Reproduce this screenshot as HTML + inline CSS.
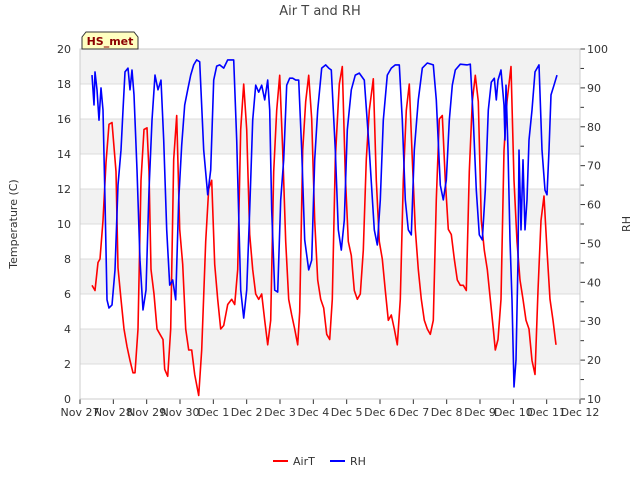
<!DOCTYPE html>
<html><head><meta charset="utf-8"><style>
body{margin:0;background:#fff;font-family:"Liberation Sans","DejaVu Sans",sans-serif}
svg text{font-family:"DejaVu Sans","Liberation Sans",sans-serif}
</style></head><body>
<svg id="c" width="640" height="480" xmlns="http://www.w3.org/2000/svg"></svg>
<script>
const xTickLabels=["Nov 27","Nov 28","Nov 29","Nov 30","Dec 1","Dec 2","Dec 3","Dec 4","Dec 5","Dec 6","Dec 7","Dec 8","Dec 9","Dec 10","Dec 11","Dec 12"];
const leftTicks=[0,2,4,6,8,10,12,14,16,18,20];
const rightTicks=[10,20,30,40,50,60,70,80,90,100];
const airTDays=[.36,.45,.54,.60,.69,.78,.87,.96,1.08,1.14,1.23,1.32,1.41,1.50,1.59,1.65,1.74,1.83,1.92,2.01,2.07,2.13,2.22,2.31,2.40,2.49,2.54,2.63,2.72,2.81,2.90,2.99,3.08,3.17,3.26,3.35,3.44,3.56,3.65,3.77,3.86,3.95,4.04,4.13,4.22,4.31,4.43,4.55,4.64,4.73,4.82,4.91,5.00,5.09,5.18,5.27,5.36,5.45,5.54,5.63,5.72,5.81,5.90,5.99,6.08,6.17,6.26,6.35,6.44,6.53,6.59,6.68,6.77,6.86,6.95,7.04,7.13,7.22,7.31,7.40,7.49,7.57,7.66,7.78,7.87,7.96,8.05,8.14,8.23,8.32,8.41,8.50,8.59,8.68,8.80,8.89,8.98,9.07,9.16,9.25,9.34,9.43,9.52,9.61,9.70,9.79,9.88,9.97,10.06,10.15,10.24,10.33,10.42,10.51,10.60,10.69,10.78,10.87,10.96,11.05,11.14,11.23,11.32,11.41,11.50,11.59,11.68,11.77,11.86,11.95,12.04,12.13,12.22,12.31,12.40,12.46,12.54,12.63,12.72,12.81,12.93,13.02,13.11,13.20,13.29,13.38,13.47,13.56,13.65,13.74,13.83,13.92,14.01,14.10,14.19,14.28];
const airTValues=[6.5,6.2,7.8,8.0,10.2,13.5,15.7,15.8,13.0,7.5,5.7,4.0,3.0,2.2,1.5,1.5,4.0,12.5,15.4,15.5,13.0,7.4,6.0,4.0,3.7,3.4,1.7,1.3,4.0,13.7,16.2,9.7,7.7,4.0,2.8,2.8,1.4,0.2,2.8,9.0,12.0,12.5,7.7,5.7,4.0,4.2,5.4,5.7,5.4,7.4,15.4,18.0,15.4,9.4,7.4,6.0,5.7,6.0,4.5,3.1,4.5,13.0,16.5,18.5,14.2,9.0,5.7,4.8,4.0,3.1,5.0,14.2,17.0,18.5,16.0,10.2,6.8,5.7,5.2,3.7,3.4,5.7,13.7,18.0,19.0,12.8,9.0,8.2,6.2,5.7,6.0,8.5,13.7,16.5,18.3,12.5,9.0,8.0,6.2,4.5,4.8,4.0,3.1,5.7,12.5,16.5,18.0,13.7,9.7,7.4,5.7,4.5,4.0,3.7,4.5,11.4,16.0,16.2,12.5,9.7,9.4,8.0,6.8,6.5,6.5,6.2,13.0,17.0,18.5,17.0,10.2,8.5,7.4,5.7,4.0,2.8,3.4,5.7,14.2,17.0,19.0,12.5,9.0,6.8,5.7,4.5,4.0,2.2,1.4,6.2,10.2,11.6,8.5,5.7,4.5,3.1];
const rhDays=[.36,.42,.45,.51,.57,.63,.69,.75,.81,.87,.96,1.05,1.14,1.23,1.29,1.35,1.44,1.50,1.56,1.62,1.71,1.80,1.89,1.98,2.07,2.16,2.25,2.34,2.43,2.51,2.60,2.69,2.78,2.87,2.96,3.05,3.14,3.23,3.32,3.41,3.50,3.59,3.71,3.83,3.92,4.01,4.10,4.19,4.31,4.43,4.52,4.61,4.70,4.82,4.91,5.00,5.09,5.18,5.27,5.36,5.45,5.54,5.63,5.69,5.75,5.84,5.93,6.02,6.11,6.20,6.29,6.38,6.47,6.56,6.65,6.74,6.86,6.95,7.04,7.13,7.25,7.37,7.46,7.54,7.66,7.75,7.84,7.93,8.02,8.14,8.26,8.38,8.53,8.68,8.83,8.92,9.01,9.10,9.22,9.34,9.46,9.58,9.67,9.76,9.85,9.94,10.03,10.15,10.27,10.42,10.60,10.69,10.81,10.90,10.99,11.08,11.17,11.26,11.41,11.62,11.71,11.80,11.89,11.98,12.07,12.16,12.25,12.34,12.43,12.49,12.54,12.63,12.72,12.75,12.78,12.84,12.90,12.96,13.02,13.08,13.14,13.17,13.23,13.29,13.35,13.41,13.47,13.56,13.65,13.77,13.86,13.95,14.01,14.07,14.13,14.22,14.31];
const rhValues=[93.3,85.6,94.1,89.5,81.7,90,84.3,61.2,35.5,33.4,34.2,43.2,65,74,84.3,94.1,95.1,89.5,94.6,88.2,68.9,45.7,32.9,38,63.7,81.7,93.3,89.5,92,76.6,53.5,39.3,40.6,35.5,61.2,75.3,85.6,89.5,93.3,95.9,97.2,96.7,74,62.5,68.9,92,95.6,95.9,95.1,97.2,97.2,97.2,76.6,38,30.8,38,58.6,81.7,90.7,88.9,90.7,86.9,92,84.3,58.6,38,37.5,61.2,71.5,90.7,92.5,92.5,92,92,74,50.9,43.2,45.7,71.5,84.3,95.1,95.9,95.1,94.6,74,53.5,48.3,56,79.2,89.5,93.3,93.8,92,74,53.5,49.6,61.2,81.7,93.3,95.1,95.9,95.9,81.7,61.2,53.5,52.2,74,86.9,95.1,96.4,95.9,86.9,65,61.2,66.3,81.7,90.7,94.6,96.1,95.9,96.1,81.7,63.7,52.2,50.9,63.7,84.3,91.5,92.5,86.9,92,94.6,85.6,76.6,90.7,74,50.9,35.5,13.1,20,45.7,74,53.5,71.5,53.5,61.2,76.6,84.3,94.1,95.9,74,63.7,62.5,74,88.2,90.7,93.3];

const svg=document.getElementById('c');const NS="http://www.w3.org/2000/svg";
const L=80,R=580,T=49,B=399;
const xS=d=>L+d*(R-L)/15;
const yL=v=>B-(v/20)*(B-T);
const yR=v=>B-((v-10)/90)*(B-T);
function mk(tag,attrs,parent){const e=document.createElementNS(NS,tag);for(const k in attrs)e.setAttribute(k,attrs[k]);(parent||svg).appendChild(e);return e;}
function tx(s,attrs){const e=mk('text',attrs);e.textContent=s;return e;}
// bands
for(let i=0;i<10;i++){const r=mk('rect',{x:L,y:yL(2*i+2),width:R-L,height:yL(0)-yL(2),fill:(i%2==1)?'#f2f2f2':'#fff'});
}
leftTicks.forEach(v=>{const g=mk('line',{x1:L,x2:R,y1:yL(v),y2:yL(v),stroke:'#dcdcdc','stroke-width':1});

const t=tx(String(v),{x:71,y:yL(v)+4,'text-anchor':'end','font-size':11,fill:'#333'});
});
rightTicks.forEach(v=>{const t=tx(String(v),{x:587,y:yR(v)+4,'font-size':11,fill:'#333'});

mk('line',{x1:R,x2:R+5,y1:yR(v),y2:yR(v),stroke:'#333'});
if(v<100)mk('line',{x1:R,x2:R+4,y1:yR(v+5),y2:yR(v+5),stroke:'#333'});});
xTickLabels.forEach((s,i)=>{mk('line',{x1:xS(i),x2:xS(i),y1:B,y2:B+5,stroke:'#333'});
const t=tx(s,{x:xS(i),y:416,'text-anchor':'middle','font-size':11,fill:'#333'});
});
const fr=mk('rect',{x:L,y:T,width:R-L,height:B-T,fill:'none',stroke:'#ccc'});

function line(ds,vs,yf,col,name){const p=ds.map((d,i)=>(i?'L':'M')+xS(d).toFixed(1)+','+yf(vs[i]).toFixed(1)).join('');
const e=mk('path',{d:p,fill:'none',stroke:col,'stroke-width':1.6,'stroke-linejoin':'round'});
}
line(airTDays,airTValues,yL,'#ff0000','airt-line');
line(rhDays,rhValues,yR,'#0000ff','rh-line');
let t=tx('Air T and RH',{x:320,y:15,'text-anchor':'middle','font-size':13,fill:'#444'});

t=tx('Temperature (C)',{x:0,y:0,transform:'translate(17,224) rotate(-90)','text-anchor':'middle','font-size':11,fill:'#333'});

t=tx('RH',{x:0,y:0,transform:'translate(630,224) rotate(-90)','text-anchor':'middle','font-size':11,fill:'#333'});

const bx=mk('path',{d:'M82,49 L82,37 L86,32 L134,32 L138,37 L138,49 Z',fill:'#ffffc0',stroke:'#333'});

t=tx('HS_met',{x:110,y:45,'text-anchor':'middle','font-size':11,'font-weight':'bold',fill:'#8b0000'});

let l=mk('line',{x1:273,x2:288,y1:461,y2:461,stroke:'#ff0000','stroke-width':2});

t=tx('AirT',{x:293,y:465,'font-size':11,fill:'#333'});

l=mk('line',{x1:330,x2:345,y1:461,y2:461,stroke:'#0000ff','stroke-width':2});

t=tx('RH',{x:350,y:465,'font-size':11,fill:'#333'});

</script>
</body></html>
